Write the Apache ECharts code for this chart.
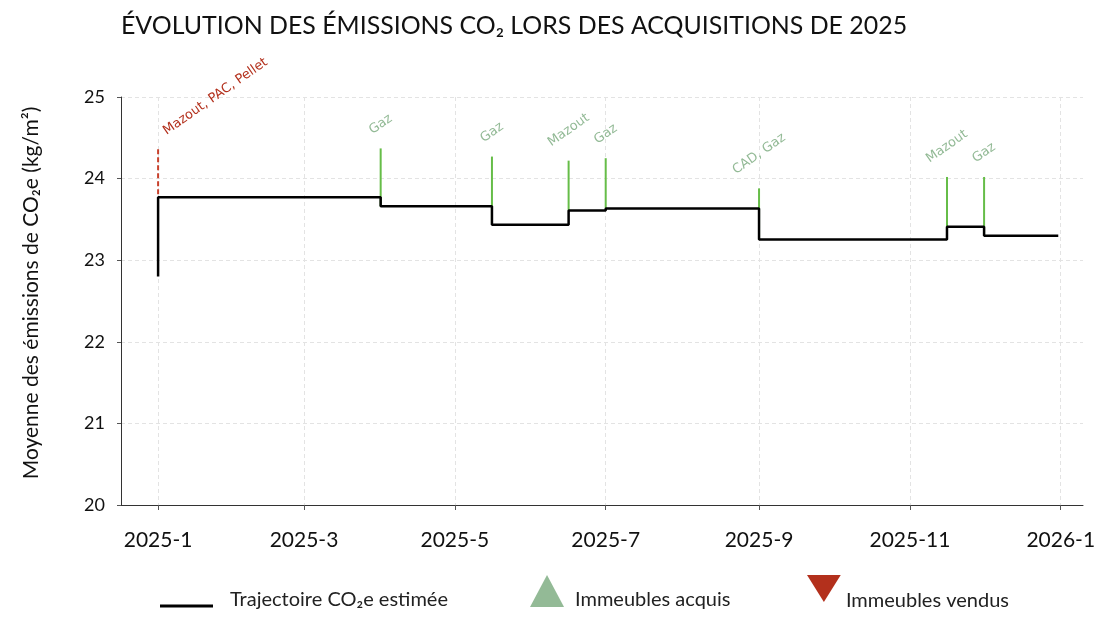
<!DOCTYPE html>
<html>
<head>
<meta charset="utf-8">
<script src="https://cdn.jsdelivr.net/npm/echarts@6/dist/echarts.min.js"></script>
<style>
  html, body { margin: 0; padding: 0; background: #fff; }
  #chart { width: 1100px; height: 617px; }
</style>
</head>
<body>
<div id="chart"></div>
<script>
// trajectoire (step line)
const stepDates = ['2025-01-01', '2025-01-01', '2025-04-01', '2025-05-16', '2025-06-16', '2025-07-01', '2025-09-01', '2025-11-16', '2025-12-01', '2025-12-31']
const stepLevels = [22.80, 23.77, 23.66, 23.435, 23.61, 23.635, 23.255, 23.41, 23.30, 23.30]

// events (acquisitions / ventes)
const eventDates = ['2025-01-01', '2025-04-01', '2025-05-16', '2025-06-16', '2025-07-01', '2025-09-01', '2025-11-16', '2025-12-01']
const eventTops = [24.36, 24.37, 24.27, 24.22, 24.25, 23.88, 24.02, 24.02]
const eventLevels = [23.77, 23.66, 23.435, 23.61, 23.635, 23.255, 23.41, 23.30]
const eventLabels = ['Mazout, PAC, Pellet', 'Gaz', 'Gaz', 'Mazout', 'Gaz', 'CAD, Gaz', 'Mazout', 'Gaz']
const eventTypes = ['vendu', 'acquis', 'acquis', 'acquis', 'acquis', 'acquis', 'acquis', 'acquis']

// axes
const xTickDates = ['2025-01-01', '2025-03-01', '2025-05-01', '2025-07-01', '2025-09-01', '2025-11-01', '2026-01-01']
const xMin = '2024-12-17'
const xMax = '2026-01-10'
const yMin = 20
const yMax = 25

const GREEN_LINE = '#66bd48'
const GREEN = '#93ba96'
const RED = '#b3301c'
const FONT = 'Lato'

const ts = d => echarts.time.parse(d).getTime()

const chart = echarts.init(document.getElementById('chart'))

const labelFont = '13px "DejaVu Sans"'
const measureCtx = document.createElement('canvas').getContext('2d')
measureCtx.font = labelFont
const ANG = 35 * Math.PI / 180

function renderEvent(params, api) {
  const i = api.value(3)
  const top = api.coord([api.value(0), api.value(1)])
  const bottom = api.coord([api.value(0), api.value(2)])
  const sold = eventTypes[i] === 'vendu'
  const text = eventLabels[i]
  const w = measureCtx.measureText(text).width
  const h = 12
  const bw = w * Math.cos(ANG) + h * Math.sin(ANG)
  const bh = w * Math.sin(ANG) + h * Math.cos(ANG)
  const cx = sold ? top[0] + 3 + bw / 2 : top[0]
  const cy = top[1] - 12 - bh / 2
  return {
    type: 'group',
    children: [
      {
        type: 'line',
        shape: { x1: top[0], y1: top[1], x2: bottom[0], y2: bottom[1] },
        style: { stroke: sold ? '#c8412c' : GREEN_LINE, lineWidth: 2, lineDash: sold ? [5, 3] : null }
      },
      {
        type: 'text',
        x: cx,
        y: cy,
        rotation: ANG,
        style: {
          text: text,
          fill: sold ? RED : GREEN,
          font: labelFont,
          align: 'center',
          verticalAlign: 'middle'
        }
      }
    ]
  }
}

function legendText(lineHeight, valign, padLeft) {
  return {
    fontFamily: FONT,
    fontSize: 20,
    color: '#222',
    rich: {
      t: {
        fontFamily: FONT,
        fontSize: 20,
        color: '#222',
        lineHeight: lineHeight,
        verticalAlign: valign,
        padding: [0, 0, 0, padLeft]
      }
    }
  }
}

const options = {
  backgroundColor: '#fff',
  animation: false,
  title: {
    text: 'ÉVOLUTION DES ÉMISSIONS CO₂ LORS DES ACQUISITIONS DE 2025',
    left: 116,
    top: 8,
    textStyle: { fontFamily: FONT, fontSize: 24.9, fontWeight: 'normal', color: '#111' }
  },
  grid: {
    left: 121,
    right: 17,
    top: 97,
    bottom: 112,
    containLabel: false,
    outerBoundsMode: 'none'
  },
  legend: [
    {
      data: ['Trajectoire CO₂e estimée'],
      left: 160,
      top: 590,
      padding: 0,
      icon: 'rect',
      itemWidth: 53,
      itemHeight: 3,
      formatter: '{t|{name}}',
      textStyle: legendText(32, 'top', 12)
    },
    {
      data: [{ name: 'Immeubles acquis', icon: 'triangle' }],
      left: 530,
      top: 575,
      padding: 0,
      itemWidth: 34,
      itemHeight: 32,
      formatter: '{t|{name}}',
      textStyle: legendText(38, 'bottom', 6)
    },
    {
      data: [{ name: 'Immeubles vendus', icon: 'path://M0,0 L2,0 L1,1.6 Z' }],
      left: 807,
      top: 575,
      padding: 0,
      itemWidth: 34,
      itemHeight: 27,
      formatter: '{t|{name}}',
      textStyle: legendText(45, 'bottom', 0)
    }
  ],
  xAxis: {
    type: 'value',
    min: ts(xMin),
    max: ts(xMax),
    axisLine: { show: true, onZero: false, lineStyle: { color: '#333', width: 1 } },
    axisTick: {
      show: true,
      length: 5,
      lineStyle: { color: '#555' },
      customValues: xTickDates.map(ts)
    },
    axisLabel: {
      fontFamily: FONT,
      fontSize: 21,
      color: '#111',
      margin: 25,
      customValues: xTickDates.map(ts),
      formatter: function(v) {
        const d = new Date(v)
        return d.getFullYear() + '-' + (d.getMonth() + 1)
      }
    },
    splitLine: { show: true, lineStyle: { color: '#e3e3e3', type: [4, 3], width: 1 } }
  },
  yAxis: {
    type: 'value',
    min: yMin,
    max: yMax,
    interval: 1,
    name: 'Moyenne des émissions de CO₂e (kg/m²)',
    nameLocation: 'middle',
    nameGap: 79,
    nameTextStyle: { fontFamily: FONT, fontSize: 21, color: '#111', padding: [0, 0, 0, 16] },
    axisLine: { show: true, lineStyle: { color: '#333', width: 1 } },
    axisTick: { show: true, length: 4, lineStyle: { color: '#555' } },
    axisLabel: { fontFamily: FONT, fontSize: 18, color: '#111', margin: 16 },
    splitLine: { show: true, lineStyle: { color: '#e3e3e3', type: [4, 3], width: 1 } }
  },
  series: [
    {
      name: 'Événements',
      type: 'custom',
      z: 1,
      encode: { x: 0, y: [1, 2] },
      renderItem: renderEvent,
      data: eventDates.map((d, i) => [ts(d), eventTops[i], eventLevels[i], i])
    },
    {
      name: 'Trajectoire CO₂e estimée',
      type: 'line',
      z: 3,
      step: 'end',
      symbol: 'none',
      lineStyle: { color: '#000', width: 2.5 },
      itemStyle: { color: '#000' },
      data: stepDates.map((d, i) => [ts(d), stepLevels[i]])
    },
    {
      name: 'Immeubles acquis',
      type: 'scatter',
      symbol: 'triangle',
      itemStyle: { color: GREEN, opacity: 1 },
      data: []
    },
    {
      name: 'Immeubles vendus',
      type: 'scatter',
      itemStyle: { color: RED, opacity: 1 },
      data: []
    }
  ]
}

chart.setOption(options)
</script>
</body>
</html>
